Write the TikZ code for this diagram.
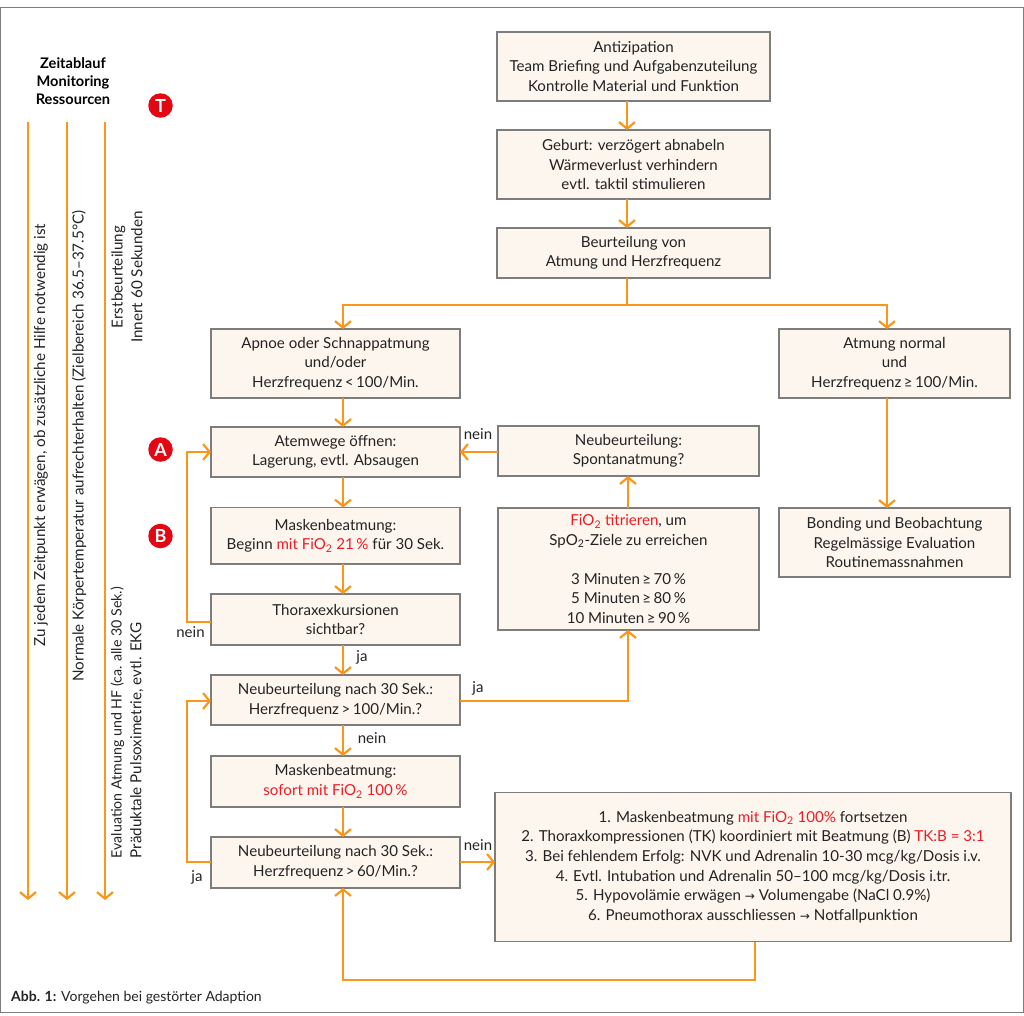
\documentclass[tikz,border=0pt]{standalone}
\usepackage{fontspec}
\setmainfont{Lato}
\newfontfamily\arrfont{DejaVu Sans}
\usetikzlibrary{arrows.meta,calc}
\definecolor{org}{RGB}{250,150,25}
\definecolor{boxfill}{RGB}{253,246,238}
\definecolor{boxline}{RGB}{125,125,125}
\definecolor{txt}{RGB}{35,35,35}
\definecolor{redt}{RGB}{237,28,36}
\definecolor{badge}{RGB}{227,6,19}
\newcommand{\rd}[1]{\textcolor{redt}{#1}}
\newcommand{\arr}{{\arrfont\scalebox{0.8}{→}}}
\newcommand{\bx}[6]{%
  \pgfmathsetmacro{\bxw}{#4-#2}\pgfmathsetmacro{\bxh}{#5-#3}%
  \pgfmathsetmacro{\bxx}{(#4+#2)/2}\pgfmathsetmacro{\bxy}{(#5+#3)/2}%
  \node[flowbox,minimum width=\bxw pt,minimum height=\bxh pt] (#1) at (\bxx,\bxy) {#6};}
\tikzset{
  x=1pt,y=-1pt,
  flowbox/.style={draw=boxline,fill=boxfill,line width=1.4pt,inner sep=0pt,outer sep=0pt,align=center,text=txt,font=\fontsize{15.1}{19.6}\selectfont},
  conn/.style={draw=org,line width=2.2pt,-{Straight Barb[length=6.5pt,width=16pt,line width=2.2pt]}},
  plain/.style={draw=org,line width=2.2pt},
  lab/.style={text=txt,font=\fontsize{15}{17}\selectfont,inner sep=0pt},
  vert/.style={text=txt,rotate=90,align=center,inner sep=0pt,font=\fontsize{15.2}{19.6}\selectfont},
  badgenode/.style={circle,fill=badge,text=white,minimum size=24.5pt,inner sep=0pt,font=\fontsize{18}{18}\selectfont\bfseries},
}
\begin{document}
\begin{tikzpicture}
\useasboundingbox (0,0) rectangle (1024,1015);
\draw[boxline,line width=1.3pt] (0.7,7.7) rectangle (1023.3,1012.7);

\bx{anti}{497}{32}{770}{101}{Antizipation\\Team Briefing und Aufgabenzuteilung\\Kontrolle Material und Funktion}
\bx{geburt}{497}{130}{770}{199}{Geburt: verzögert abnabeln\\Wärmeverlust verhindern\\evtl. taktil stimulieren}
\bx{beurt}{497}{228}{770}{278}{Beurteilung von\\Atmung und Herzfrequenz}
\bx{apnoe}{211}{329}{460}{398}{Apnoe oder Schnappatmung\\und/oder\\Herzfrequenz\,<\,100/Min.}
\bx{normal}{779}{329}{1010}{398}{Atmung normal\\und\\Herzfrequenz\,≥\,100/Min.}
\bx{atem}{211}{427}{460}{477}{Atemwege öffnen:\\Lagerung, evtl. Absaugen}
\bx{maske}{211}{507.5}{460}{564}{Maskenbeatmung:\\Beginn \rd{mit FiO\textsubscript{2} 21\,\%} für 30 Sek.}
\bx{thorax}{211}{594}{460}{645}{Thoraxexkursionen\\sichtbar?}
\bx{neua}{211}{675}{460}{725}{Neubeurteilung nach 30 Sek.:\\Herzfrequenz\,>\,100/Min.?}
\bx{maskeb}{211}{756}{460}{807}{Maskenbeatmung:\\\rd{sofort mit FiO\textsubscript{2} 100\,\%}}
\bx{neub}{211}{837}{460}{888}{Neubeurteilung nach 30 Sek.:\\Herzfrequenz\,>\,60/Min.?}
\bx{spont}{498}{426}{759}{476}{Neubeurteilung:\\Spontanatmung?}
\bx{fio}{498}{508}{759}{630}{\rd{FiO\textsubscript{2} titrieren}, um\\SpO\textsubscript{2}-Ziele zu erreichen\\\mbox{}\\3 Minuten\,≥\,70\,\%\\5 Minuten\,≥\,80\,\%\\10 Minuten\,≥\,90\,\%}
\bx{bond}{779}{508}{1010}{577}{Bonding und Beobachtung\\Regelmässige Evaluation\\Routinemassnahmen}
\bx{gross}{495}{792.5}{1011}{941.5}{1. Maskenbeatmung \rd{mit FiO\textsubscript{2} 100\%} fortsetzen\\2. Thoraxkompressionen (TK) koordiniert mit Beatmung (B) \rd{TK:B = 3:1}\\3. Bei fehlendem Erfolg: NVK und Adrenalin 10-30 mcg/kg/Dosis i.v.\\4. Evtl. Intubation und Adrenalin 50–100 mcg/kg/Dosis i.tr.\\5. Hypovolämie erwägen \arr{} Volumengabe (NaCl 0.9\%)\\6. Pneumothorax ausschliessen \arr{} Notfallpunktion}

% reference coordinates for connectors
\coordinate (xtop) at (627,0);
\coordinate (xleft) at (343,0);
\coordinate (xright) at (887,0);
\coordinate (xfio) at (628,0);
\coordinate (xback) at (187,0);
\coordinate (xgross) at (755,0);
\coordinate (split) at (627,305);
\coordinate (ybottom) at (0,980);
\coordinate (ytA) at (0,452);
\coordinate (ynein) at (0,622);
\coordinate (yja) at (0,701);
\coordinate (yjb) at (0,862);

\draw[conn] (anti.south -| xtop) -- (geburt.north -| xtop);
\draw[conn] (geburt.south -| xtop) -- (beurt.north -| xtop);
\draw[plain] (beurt.south -| xtop) -- (split);
\draw[conn] (split) -| (apnoe.north -| xleft);
\draw[conn] (split) -| (normal.north -| xright);
\draw[conn] (apnoe.south -| xleft) -- (atem.north -| xleft);
\draw[conn] (atem.south -| xleft) -- (maske.north -| xleft);
\draw[conn] (maske.south -| xleft) -- (thorax.north -| xleft);
\draw[conn] (thorax.south -| xleft) -- (neua.north -| xleft);
\draw[conn] (neua.south -| xleft) -- (maskeb.north -| xleft);
\draw[conn] (maskeb.south -| xleft) -- (neub.north -| xleft);
\draw[conn] (normal.south -| xright) -- (bond.north -| xright);
\draw[conn] (fio.north -| xfio) -- (spont.south -| xfio);
\draw[conn] (spont.west |- ytA) -- (atem.east |- ytA);
\draw[conn] (thorax.west |- ynein) -| (xback |- ytA) -- (atem.west |- ytA);
\draw[conn] (neub.west |- yjb) -| (xback |- yja) -- (neua.west |- yja);
\draw[conn] (neua.east |- yja) -| (fio.south -| xfio);
\draw[conn] (neub.east |- yjb) -- (gross.west |- yjb);
\draw[conn] (gross.south -| xgross) -- (xgross |- ybottom) -- (xleft |- ybottom) -- (neub.south -| xleft);

% left time lines
\coordinate (la) at (28,122); \coordinate (lae) at (28,900);
\coordinate (lb) at (67,122); \coordinate (lbe) at (67,900);
\coordinate (lc) at (105,122); \coordinate (lce) at (105,900);
\draw[conn] (la) -- (lae);
\draw[conn] (lb) -- (lbe);
\draw[conn] (lc) -- (lce);

\node[text=black,align=center,inner sep=0pt,font=\fontsize{14.6}{17.8}\selectfont\bfseries] (head) at (73,81) {Zeitablauf\\Monitoring\\Ressourcen};
\node[badgenode] (bt) at (160.5,105.5) {T};
\node[badgenode] (ba) at (160.5,449.5) {A};
\node[badgenode] (bb) at (160.5,536) {B};

\node[vert] (va) at (41,435) {Zu jedem Zeitpunkt erwägen, ob zusätzliche Hilfe notwendig ist};
\node[vert] (vb) at (79,446) {Normale Körpertemperatur aufrechterhalten (Zielbereich 36.5–37.5°C)};
\node[vert] (vc) at (127,277) {Erstbeurteilung\\Innert 60 Sekunden};
\node[vert,anchor=west,align=left] (vd) at (127,858.5) {{\fontsize{14.2}{19.6}\selectfont Evaluation Atmung und HF (ca. alle 30 Sek.)}\\Präduktale Pulsoximetrie, evtl. EKG};

\node[lab] (l1) at (478,434) {nein};
\node[lab] (l2) at (190.5,632) {nein};
\node[lab] (l3) at (362,657) {ja};
\node[lab] (l4) at (478,688) {ja};
\node[lab] (l5) at (372,738) {nein};
\node[lab] (l6) at (478,845) {nein};
\node[lab] (l7) at (197,877) {ja};

\node[anchor=west,inner sep=0pt,text=txt,font=\fontsize{14}{15}\selectfont] (cap) at (11,998) {\textbf{Abb. 1:} Vorgehen bei gestörter Adaption};
\end{tikzpicture}
\end{document}
